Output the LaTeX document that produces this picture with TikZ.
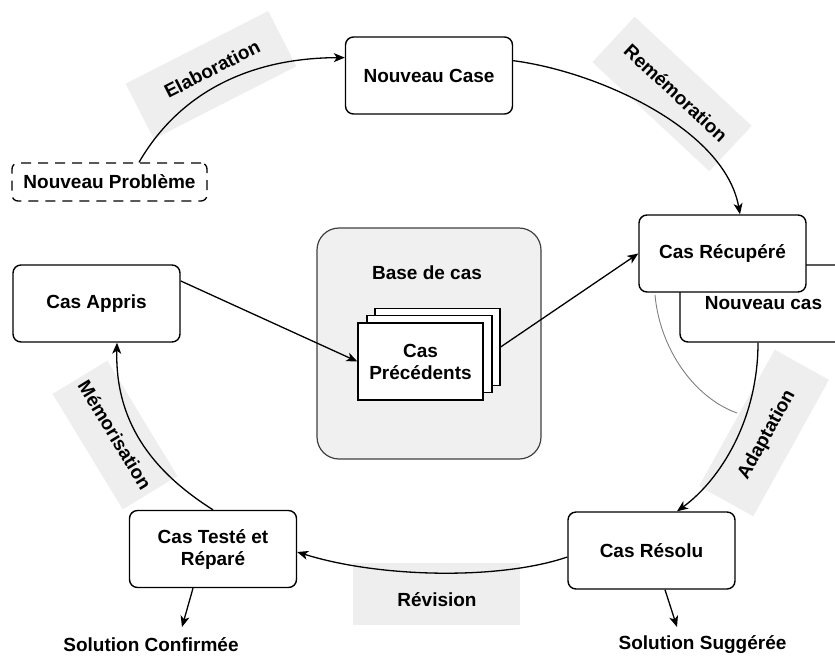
\documentclass[tikz,border=0pt]{standalone}
\usepackage{fontspec}
\setmainfont{Liberation Sans}
\usetikzlibrary{arrows.meta,calc}
\definecolor{bandgray}{HTML}{EEEEEE}
\definecolor{basegray}{HTML}{F0F0F0}
\begin{document}
\begin{tikzpicture}[x=1pt,y=-1pt,
  font=\fontsize{19}{22}\selectfont\bfseries,
  box/.style={draw=black,line width=1.4pt,rounded corners=8pt,fill=white,
    minimum width=167pt,minimum height=77pt,align=center,inner sep=0pt},
  band/.style={fill=bandgray,minimum width=160pt,minimum height=62pt,inner sep=0pt},
  lbl/.style={inner sep=0pt,align=center},
  flow/.style={line width=1.3pt,-{Stealth[length=11pt,width=9pt,inset=3pt]}},
  sheet/.style={draw=black,line width=1.2pt,fill=white,minimum width=125pt,
    minimum height=77pt,inner sep=0pt,align=center}
]
\useasboundingbox (0,0) rectangle (835,657);
\fill[white] (0,0) rectangle (835,657);

% label bands along the cycle
\node[band,rotate=27] (bElab) at (211,75) {};
\node[band,rotate=-43] (bRem) at (672,94) {};
\node[band,rotate=61,minimum width=156pt] (bAdap) at (764,433) {};
\node[band,minimum width=167pt] (bRev) at (436.5,594) {};
\node[band,rotate=-58.7,minimum width=135pt,minimum height=64pt] (bMem) at (115,435) {};

\node[lbl,rotate=27] (tElab) at (212,69) {Elaboration};
\node[lbl,rotate=-43] (tRem) at (676,93) {Remémoration};
\node[lbl,rotate=61] (tAdap) at (767,435) {Adaptation};
\node[lbl] (tRev) at (437,600) {Révision};
\node[lbl,rotate=-58.7] (tMem) at (115,435) {Mémorisation};

% case base with its stack of previous cases
\node[draw=black!75,line width=1.2pt,fill=basegray,rounded corners=22pt,
  minimum width=224pt,minimum height=231pt] (base) at (429,343.5) {};
\node[lbl] (baseT) at (427,273) {Base de cas};
\node[sheet] (pg3) at (437.5,347) {};
\node[sheet] (pg2) at (429.5,354) {};
\node[sheet] (pg1) at (420.5,361.5) {Cas\\Précédents};

% thin grey arc below the retrieved case
\draw[gray,line width=0.9pt] (655,295) .. controls (660,350) and (695,398) .. (737,413);

% cycle nodes
\node[box] (nc) at (429,75.5) {Nouveau Case};
\node[draw=black,dash pattern=on 10pt off 7pt,line width=1.3pt,rounded corners=6pt,
  minimum width=195pt,minimum height=38pt,inner sep=0pt] (np) at (109.5,182) {Nouveau Problème};
\node[box] (nw) at (763.5,303.5) {Nouveau cas};
\node[box] (cr) at (722.5,253.5) {Cas Récupéré};
\node[box] (ca) at (96.5,303.5) {Cas Appris};
\node[box] (res) at (651.5,550.5) {Cas Résolu};
\node[box] (ct) at (213,549) {Cas Testé et\\Réparé};

\node[lbl] (ss) at (702.5,645) {Solution Suggérée};
\node[lbl] (sc) at (151,645) {Solution Confirmée};
\coordinate (ssTip) at (677,627);
\coordinate (scTip) at (182,627);

% connectors
\draw[flow] ($(np.north)+(29.5,0)$) .. controls (175,100) and (240,58) .. (nc.168);
\draw[flow] (nc.10.5) .. controls (600,72) and (725,130) .. ($(cr.north)+(17.5,0)$);
\draw[flow] (pg3.east) -- (cr.west);
\draw[flow] (ca.15.7) -- (pg1.west);
\draw[flow] ($(nw.south)+(-5.5,0)$) .. controls (758,420) and (720,480) .. ($(res.north)+(25.5,0)$);
\draw[flow] ($(res.west)+(0,6.5)$) .. controls (500,580) and (380,578) .. ($(ct.east)+(0,3)$);
\draw[flow] (ct.north) .. controls (150,470) and (115,420) .. ($(ca.south)+(20.5,0)$);
\draw[flow] ($(res.south)+(13.5,0)$) -- (ssTip);
\draw[flow] ($(ct.south)+(-20,0)$) -- (scTip);
\end{tikzpicture}
\end{document}
